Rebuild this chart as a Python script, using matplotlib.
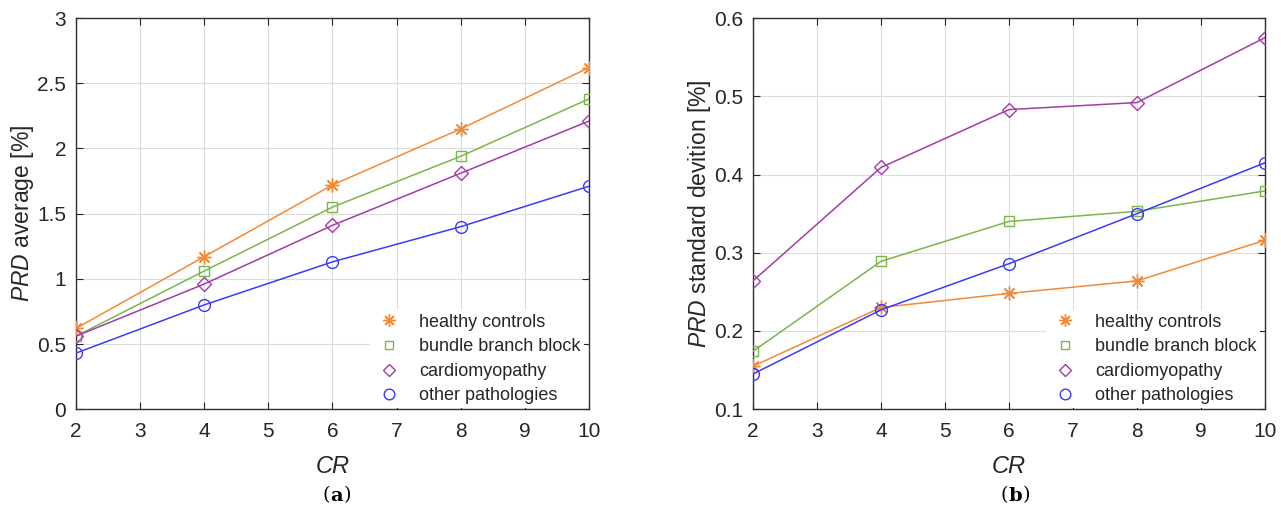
import matplotlib

matplotlib.use("Agg")
import matplotlib.pyplot as plt
from matplotlib.lines import Line2D

cr = [2, 4, 6, 8, 10]
groups = ["healthy controls", "bundle branch block", "cardiomyopathy", "other pathologies"]

# PRD average [%]
avg_healthy = [0.62, 1.17, 1.72, 2.15, 2.62]
avg_bbb = [0.56, 1.06, 1.55, 1.94, 2.38]
avg_cardio = [0.56, 0.96, 1.41, 1.81, 2.21]
avg_other = [0.43, 0.80, 1.13, 1.40, 1.71]

# PRD standard deviation [%]
std_healthy = [0.155, 0.230, 0.248, 0.264, 0.316]
std_bbb = [0.174, 0.289, 0.340, 0.353, 0.379]
std_cardio = [0.264, 0.409, 0.483, 0.492, 0.575]
std_other = [0.145, 0.227, 0.286, 0.350, 0.415]

colors = ["#f28a36", "#7ab648", "#a23ca8", "#3a3aff"]
markers = [(8, 2, 0), "s", "D", "o"]
msizes = [10, 7, 7, 8.5]

plt.rcParams["font.family"] = ["Liberation Sans", "DejaVu Sans"]
plt.rcParams["mathtext.fontset"] = "custom"
plt.rcParams["mathtext.it"] = "Liberation Sans:italic"
plt.rcParams["mathtext.rm"] = "Liberation Sans"


def draw(ax, series, ylim, yticks, ylabel):
    for vals, c, m, ms in zip(series, colors, markers, msizes):
        ax.plot(cr, vals, color=c, lw=1.1, marker=m, ms=ms,
                mfc="none", mec=c, mew=1.0, zorder=3)
    ax.set_xlim(2, 10)
    ax.set_ylim(*ylim)
    ax.set_xticks(range(2, 11))
    ax.set_yticks(yticks)
    ax.set_yticklabels([f"{v:g}" for v in yticks])
    ax.grid(True, color="#dcdcdc", lw=0.8)
    ax.set_axisbelow(True)
    ax.tick_params(direction="in", length=5, top=True, right=True,
                   labelsize=15, colors="#262626")
    ax.tick_params(axis="x", pad=9)
    ax.tick_params(axis="y", pad=7)
    for s in ax.spines.values():
        s.set_color("#303030")
        s.set_linewidth(1.0)
    ax.set_xlabel("CR", fontsize=17, style="italic", color="#262626", labelpad=10)
    ax.set_ylabel(ylabel, fontsize=16.5, color="#262626", labelpad=1)
    handles = [Line2D([], [], ls="none", marker=m, color=c, mfc="none",
                      ms=ms * 0.9, mew=1.0)
               for c, m, ms in zip(colors, markers, msizes)]
    # white box without edge, hides the grid behind it like the original
    leg = ax.legend(handles, groups, loc="lower right", bbox_to_anchor=(0.998, 0.003),
                    fontsize=13, frameon=True, fancybox=False, framealpha=1,
                    edgecolor="none", handletextpad=0.8, borderpad=0.2,
                    labelspacing=0.42, borderaxespad=0.0, handlelength=1.7)
    leg._legend_box.align = "left"
    for t in leg.get_texts():
        t.set_color("#262626")
    leg.set_bbox_to_anchor((0.99, 0.003), transform=ax.transAxes)
    leg.set_zorder(5)


fig = plt.figure(figsize=(12.81, 5.16), dpi=100)
ax1 = fig.add_axes([0.0593, 0.207, 0.4005, 0.758])
ax2 = fig.add_axes([0.5878, 0.207, 0.3997, 0.758])

draw(ax1, [avg_healthy, avg_bbb, avg_cardio, avg_other], (0, 3),
     [0, 0.5, 1, 1.5, 2, 2.5, 3], r"$\mathit{PRD}$ average [%]")
draw(ax2, [std_healthy, std_bbb, std_cardio, std_other], (0.1, 0.6),
     [0.1, 0.2, 0.3, 0.4, 0.5, 0.6], r"$\mathit{PRD}$ standard devition [%]")

fig.text(0.258, 0.03, "(", fontsize=14, family="DejaVu Serif", ha="right")
fig.text(0.258, 0.03, "a", fontsize=14, family="DejaVu Serif", weight="bold", ha="left")
fig.text(0.2685, 0.03, ")", fontsize=14, family="DejaVu Serif", ha="left")
fig.text(0.787, 0.03, "(", fontsize=14, family="DejaVu Serif", ha="right")
fig.text(0.787, 0.03, "b", fontsize=14, family="DejaVu Serif", weight="bold", ha="left")
fig.text(0.798, 0.03, ")", fontsize=14, family="DejaVu Serif", ha="left")

fig.savefig("out.png", dpi=100)
